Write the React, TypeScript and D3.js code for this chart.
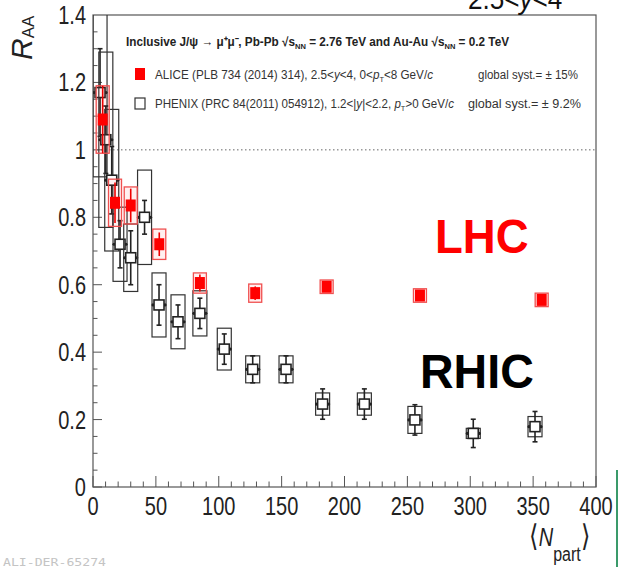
import { useEffect, useRef } from "react";
import * as d3 from "d3";

// ALICE Pb-Pb 2.76 TeV, 2.5<y<4
const aliceNpart = [7.7, 17.5, 30, 52.7, 85, 129, 185.8, 260, 356.8];
const aliceR = [1.09, 0.843, 0.835, 0.72, 0.605, 0.575, 0.594, 0.568, 0.555];
const aliceStat = [0.1, 0.06, 0.05, 0.035, 0.025, 0.02, 0.015, 0.012, 0.012];
const aliceSyst = [0.1, 0.07, 0.055, 0.045, 0.03, 0.027, 0.02, 0.02, 0.02];

// PHENIX Au-Au 0.2 TeV, 1.2<|y|<2.2
const phenixNpart = [5.6, 10.2, 14.9, 21.5, 30, 41, 52.5, 67.6, 85, 104.4, 127, 153.5, 182.6, 215.8, 256, 302.4, 351.5];
const phenixR = [1.17, 1.03, 0.91, 0.72, 0.68, 0.8, 0.54, 0.49, 0.515, 0.409, 0.349, 0.349, 0.246, 0.246, 0.199, 0.159, 0.179];
const phenixStat = [0.13, 0.1, 0.1, 0.07, 0.08, 0.05, 0.06, 0.05, 0.045, 0.045, 0.04, 0.04, 0.045, 0.045, 0.045, 0.042, 0.045];
const phenixSyst = [0.25, 0.26, 0.21, 0.11, 0.1, 0.14, 0.095, 0.08, 0.067, 0.062, 0.04, 0.04, 0.033, 0.033, 0.04, 0.015, 0.03];

const xTicks = [0, 50, 100, 150, 200, 250, 300, 350, 400];
const yTicks = [0, 0.2, 0.4, 0.6, 0.8, 1, 1.2, 1.4];

const FONT = "'Liberation Sans', Arial, Helvetica, sans-serif";

const Chart = () => {
  const ref = useRef<HTMLDivElement | null>(null);

  function render(svg: any) {
    const width = 618;
    const height = 567;
    const left = 93, right = 596, top = 15, bottom = 487;

    svg.attr("width", width).attr("height", height)
      .style("position", "absolute").style("left", 0).style("top", 0)
      .style("background", "#fff");

    const x = d3.scaleLinear().domain([0, 400]).range([left, right]);
    const y = d3.scaleLinear().domain([0, 1.4]).range([bottom, top]);

    svg.append("rect").attr("width", width).attr("height", height).attr("fill", "#fff");

    svg.append("clipPath").attr("id", "frame")
      .append("rect").attr("x", left).attr("y", top)
      .attr("width", right - left).attr("height", bottom - top);

    // squeezed text helper (the slide image is a bit narrow)
    const txt = (g: any, px: number, py: number, size: number, anchor: string, sx = 0.8) =>
      g.append("text")
        .attr("transform", `translate(${px},${py}) scale(${sx},1)`)
        .attr("font-family", FONT).attr("font-size", size)
        .attr("text-anchor", anchor);

    // frame
    svg.append("rect").attr("x", left).attr("y", top)
      .attr("width", right - left).attr("height", bottom - top)
      .attr("fill", "none").attr("stroke", "#555").attr("stroke-width", 1.2);

    // ticks
    const ax = svg.append("g").attr("stroke", "#555").attr("stroke-width", 1);
    d3.range(0, 401, 10).forEach((v) => {
      const major = v % 50 === 0;
      ax.append("line").attr("x1", x(v)).attr("x2", x(v))
        .attr("y1", bottom).attr("y2", bottom - (major ? 11 : 5.5));
    });
    d3.range(0, 28).forEach((i) => {
      const v = i * 0.05;
      const major = i % 4 === 0;
      ax.append("line").attr("x1", left).attr("x2", left + (major ? 9 : 4.5))
        .attr("y1", y(v)).attr("y2", y(v));
    });

    xTicks.forEach((v) => {
      txt(svg, x(v), 515, 25, "middle").attr("fill", "#222").text(v);
    });
    yTicks.forEach((v) => {
      txt(svg, 86, y(v) + 9, 25, "end").attr("fill", "#222").text(String(+v.toFixed(1)));
    });

    // axis titles
    const yt = svg.append("text")
      .attr("transform", "translate(32,60) rotate(-90)")
      .attr("font-family", FONT).attr("fill", "#222");
    yt.append("tspan").attr("font-size", 30).attr("font-style", "italic").text("R");
    yt.append("tspan").attr("font-size", 17).attr("dy", 2).text("AA");

    const xt = txt(svg, 529, 546, 25, "start").attr("fill", "#222");
    xt.append("tspan").attr("font-size", 30).text("\u27E8");
    xt.append("tspan").attr("font-style", "italic").text("N");
    xt.append("tspan").attr("font-size", 20).attr("dy", 15).text("part");
    xt.append("tspan").attr("font-size", 30).attr("dy", -15).text("\u27E9");

    // reference line at 1
    svg.append("line").attr("x1", left).attr("x2", right)
      .attr("y1", y(1)).attr("y2", y(1))
      .attr("stroke", "#666").attr("stroke-width", 1).attr("stroke-dasharray", "1.5,2.5");

    const plot = svg.append("g").attr("clip-path", "url(#frame)");

    // PHENIX
    phenixNpart.forEach((n, i) => {
      const cx = x(n);
      const cy = y(phenixR[i]);
      const g = plot.append("g");
      g.append("rect").attr("x", cx - 7).attr("width", 14)
        .attr("y", y(phenixR[i] + phenixSyst[i]))
        .attr("height", y(phenixR[i] - phenixSyst[i]) - y(phenixR[i] + phenixSyst[i]))
        .attr("fill", "none").attr("stroke", "#333").attr("stroke-width", 1.2);
      const y1 = y(phenixR[i] + phenixStat[i]);
      const y2 = y(phenixR[i] - phenixStat[i]);
      g.append("line").attr("x1", cx).attr("x2", cx).attr("y1", y1).attr("y2", y2)
        .attr("stroke", "#222").attr("stroke-width", 1.6);
      [y1, y2].forEach((yy) =>
        g.append("line").attr("x1", cx - 2.5).attr("x2", cx + 2.5).attr("y1", yy).attr("y2", yy)
          .attr("stroke", "#222").attr("stroke-width", 1.6));
      [-6, 6].forEach((dx) =>
        g.append("circle").attr("cx", cx + dx).attr("cy", cy).attr("r", 1.6).attr("fill", "#222"));
      g.append("rect").attr("x", cx - 5).attr("y", cy - 5).attr("width", 10).attr("height", 10)
        .attr("fill", "#fff").attr("stroke", "#222").attr("stroke-width", 1.6);
    });

    // ALICE
    aliceNpart.forEach((n, i) => {
      const cx = x(n);
      const cy = y(aliceR[i]);
      const g = plot.append("g");
      g.append("rect").attr("x", cx - 6.5).attr("width", 13)
        .attr("y", y(aliceR[i] + aliceSyst[i]))
        .attr("height", y(aliceR[i] - aliceSyst[i]) - y(aliceR[i] + aliceSyst[i]))
        .attr("fill", "rgba(255,0,0,0.06)").attr("stroke", "#f05050").attr("stroke-width", 1.3);
      g.append("line").attr("x1", cx).attr("x2", cx)
        .attr("y1", y(aliceR[i] + aliceStat[i])).attr("y2", y(aliceR[i] - aliceStat[i]))
        .attr("stroke", "#e00").attr("stroke-width", 1.6);
      g.append("rect").attr("x", cx - 5).attr("y", cy - 6).attr("width", 10).attr("height", 12)
        .attr("fill", "#ff0000");
    });

    // legend
    const l1 = svg.append("text").attr("x", 126).attr("y", 46)
      .attr("font-family", FONT).attr("font-size", 12.5).attr("font-weight", "bold")
      .attr("fill", "#222").attr("textLength", 383).attr("lengthAdjust", "spacingAndGlyphs");
    l1.append("tspan").text("Inclusive J/\u03C8 \u2192 \u03BC\u207A\u03BC\u207B, Pb-Pb \u221As");
    l1.append("tspan").attr("font-size", 8).attr("dy", 3).text("NN");
    l1.append("tspan").attr("dy", -3).text(" = 2.76 TeV and Au-Au \u221As");
    l1.append("tspan").attr("font-size", 8).attr("dy", 3).text("NN");
    l1.append("tspan").attr("dy", -3).text(" = 0.2 TeV");

    svg.append("rect").attr("x", 135).attr("y", 68).attr("width", 10).attr("height", 12).attr("fill", "#ff0000");
    const l2 = svg.append("text").attr("x", 155).attr("y", 79)
      .attr("font-family", FONT).attr("font-size", 12.5).attr("fill", "#333")
      .attr("textLength", 278).attr("lengthAdjust", "spacingAndGlyphs");
    l2.append("tspan").text("ALICE (PLB 734 (2014) 314), 2.5<");
    l2.append("tspan").attr("font-style", "italic").text("y");
    l2.append("tspan").text("<4, 0<");
    l2.append("tspan").attr("font-style", "italic").text("p");
    l2.append("tspan").attr("font-size", 8).attr("dy", 3).text("T");
    l2.append("tspan").attr("dy", -3).text("<8 GeV/");
    l2.append("tspan").attr("font-style", "italic").text("c");
    svg.append("text").attr("x", 478).attr("y", 79)
      .attr("font-family", FONT).attr("font-size", 12.5).attr("fill", "#333")
      .attr("textLength", 100).attr("lengthAdjust", "spacingAndGlyphs")
      .text("global syst.= \u00B1 15%");

    svg.append("rect").attr("x", 135).attr("y", 98).attr("width", 10).attr("height", 11)
      .attr("fill", "#fff").attr("stroke", "#333").attr("stroke-width", 1.2);
    const l3 = svg.append("text").attr("x", 155).attr("y", 108)
      .attr("font-family", FONT).attr("font-size", 12.5).attr("fill", "#333")
      .attr("textLength", 299).attr("lengthAdjust", "spacingAndGlyphs");
    l3.append("tspan").text("PHENIX (PRC 84(2011) 054912), 1.2<|");
    l3.append("tspan").attr("font-style", "italic").text("y");
    l3.append("tspan").text("|<2.2, ");
    l3.append("tspan").attr("font-style", "italic").text("p");
    l3.append("tspan").attr("font-size", 8).attr("dy", 3).text("T");
    l3.append("tspan").attr("dy", -3).text(">0 GeV/");
    l3.append("tspan").attr("font-style", "italic").text("c");
    svg.append("text").attr("x", 468).attr("y", 108)
      .attr("font-family", FONT).attr("font-size", 12.5).attr("fill", "#333")
      .attr("textLength", 113).attr("lengthAdjust", "spacingAndGlyphs")
      .text("global syst.= \u00B1 9.2%");

    // big labels
    txt(svg, 435, 253, 48, "start", 0.95).attr("font-weight", "bold").attr("fill", "#ff0000").text("LHC");
    txt(svg, 420, 388, 48, "start", 0.97).attr("font-weight", "bold").attr("fill", "#000").text("RHIC");

    // cut-off slide text at the very top
    const cut = txt(svg, 468, 9, 29, "start", 0.9).attr("fill", "#111");
    cut.append("tspan").text("2.5<");
    cut.append("tspan").attr("font-style", "italic").text("y");
    cut.append("tspan").text("<4");

    // figure id
    svg.append("text").attr("x", 3).attr("y", 566)
      .attr("font-family", "'DejaVu Sans Mono', monospace").attr("font-size", 11)
      .attr("fill", "#c4c4c4").attr("textLength", 103).attr("lengthAdjust", "spacingAndGlyphs")
      .text("ALI-DER-65274");

    svg.append("line").attr("x1", 617).attr("x2", 617).attr("y1", 470).attr("y2", 567)
      .attr("stroke", "#3a9a6a").attr("stroke-width", 2);
  }

  useEffect(() => {
    if (ref.current) {
      const svg = d3.select(ref.current).append("svg");
      render(svg);
      return () => {
        svg.remove();
      };
    }
  }, []);

  return <div ref={ref}></div>;
};

export default function App() {
  return <Chart />;
}
